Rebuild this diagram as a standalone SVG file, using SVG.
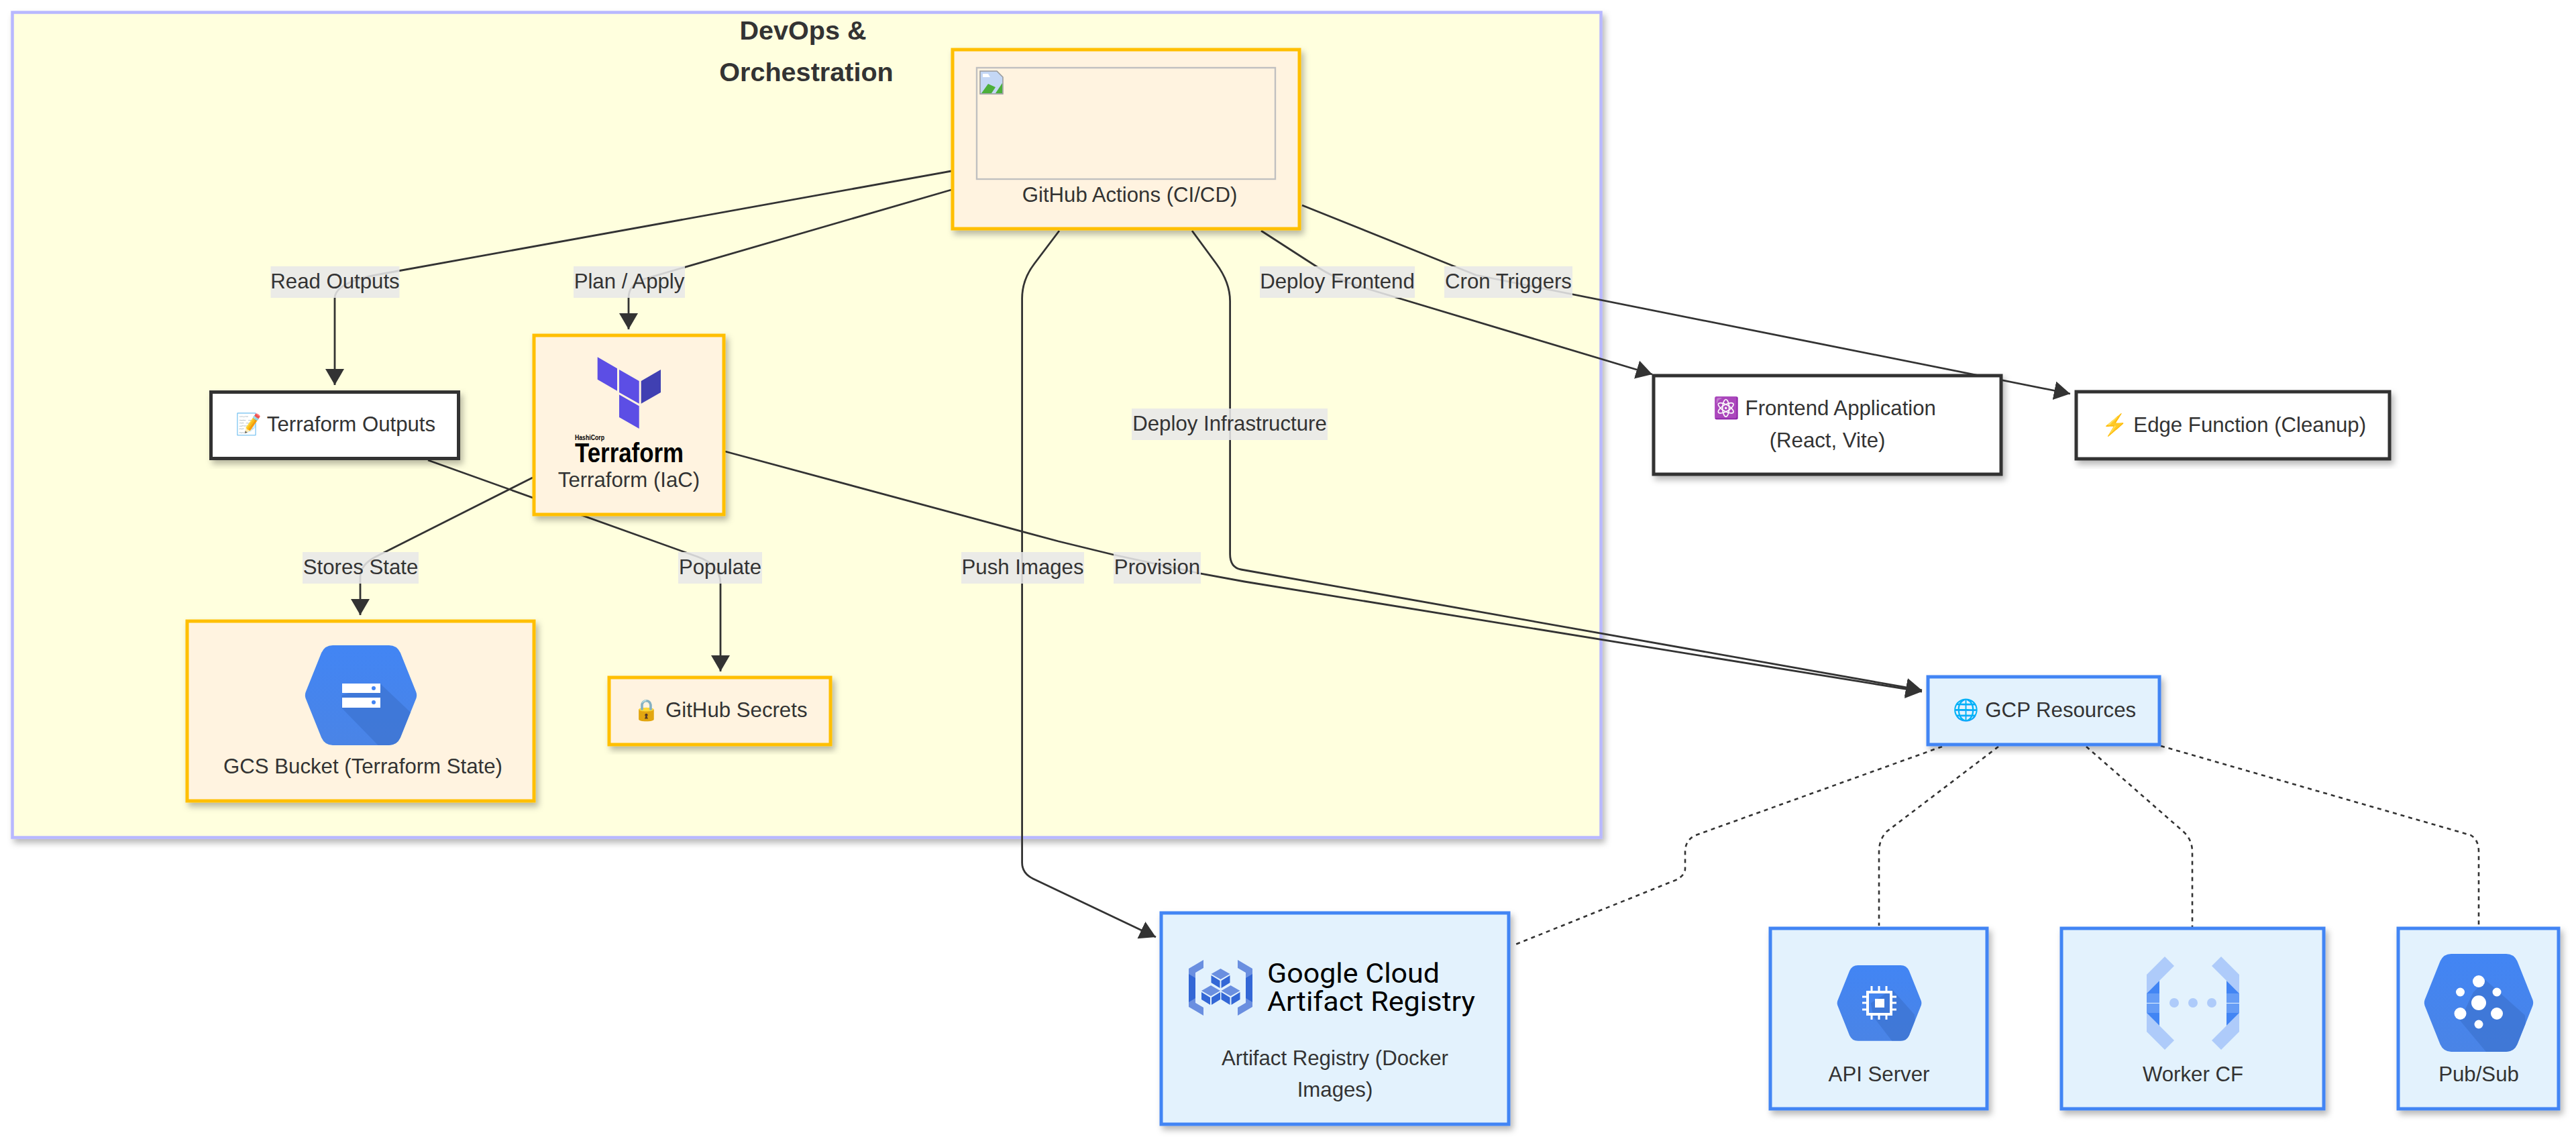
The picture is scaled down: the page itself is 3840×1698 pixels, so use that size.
<svg xmlns="http://www.w3.org/2000/svg" width="3840" height="1698" viewBox="0 0 3840 1698">
<style>
text{font-family:"Liberation Sans",Arial,"Noto Color Emoji",sans-serif;fill:#333;font-size:31.2px;text-anchor:middle}
.title{font-weight:700;font-size:39.6px}
.edge{fill:none;stroke:#333;stroke-width:2.8}
.dot{fill:none;stroke:#333;stroke-width:2.6;stroke-dasharray:6 6}
.lbl{fill:#e8e8e8;fill-opacity:.87}
.o{fill:#fff3e0;stroke:#ffbf00;stroke-width:5;filter:url(#sh)}
.b{fill:#e3f2fd;stroke:#4285f4;stroke-width:5;filter:url(#sh)}
.k{fill:#fff;stroke:#333;stroke-width:5;filter:url(#sh)}
.hex{fill:url(#hg)}
.hs{fill:#3a6fcc;fill-opacity:.6}
</style>
<defs>
<linearGradient id="hg" x1="0" y1="0" x2="0" y2="1"><stop offset="0" stop-color="#4285f4"/><stop offset="1" stop-color="#4a84e6"/></linearGradient>
<filter id="sh" x="-10%" y="-10%" width="125%" height="125%"><feDropShadow dx="4" dy="6" stdDeviation="5" flood-color="#000" flood-opacity=".28"/></filter>
<marker id="ar" markerUnits="userSpaceOnUse" markerWidth="26" markerHeight="30" refX="24" refY="14" orient="auto"><path d="M0,0L24,14L0,28z" fill="#333"/></marker>
<path id="hx" d="M25,3 H75 Q82,3 85,10 L99,47 Q100,50 99,53 L85,90 Q82,97 75,97 H25 Q18,97 15,90 L1,53 Q0,50 1,47 L15,10 Q18,3 25,3z"/>
<clipPath id="hc"><use href="#hx"/></clipPath>
<g id="cube"><path d="M14,0L28,8L14,16L0,8z" fill="#6a8fe0"/><path d="M0,10L13,18V29L0,21z" fill="#3367d6"/><path d="M28,10L15,18V29L28,21z" fill="#3367d6"/></g>
<g id="wb"><path d="M3227,1426L3241,1440L3219,1462L3200,1481V1453z" fill="#aecbfa"/><path d="M3219,1462V1481H3200z" fill="#4285f4"/><rect x="3200" y="1481" width="19" height="14" fill="#669df6"/></g>
</defs>
<rect width="3840" height="1698" fill="#fff"/>
<rect id="cluster" x="18.5" y="18.5" width="2368" height="1230" fill="#ffffde" stroke="#b8b8ff" stroke-width="4.5" filter="url(#sh)"/>
<g id="connectors">
<path class="edge" d="M1418,255L560,410Q499,422 499,445V574" marker-end="url(#ar)"/>
<path class="edge" d="M1418,283L960,416Q937,424 937,444V491" marker-end="url(#ar)"/>
<path class="edge" d="M794,712L560,830Q537,842 537,860V917" marker-end="url(#ar)"/>
<path class="edge" d="M638,686L1040,830Q1074,842 1074,870V1001" marker-end="url(#ar)"/>
<path class="edge" d="M1081,673L1578,807L1660,827Q1721,840 1789,855L1855,867L2865,1031" marker-end="url(#ar)"/>
<path class="edge" d="M1777,344L1813,393Q1833.6,421 1833.6,449V826Q1833.6,846 1850,849L2865,1029" marker-end="url(#ar)"/>
<path class="edge" d="M1579,344L1542,393Q1523.6,417 1523.6,445V1286Q1523.6,1302 1540,1310L1723,1397" marker-end="url(#ar)"/>
<path class="edge" d="M1880,344L1962,397Q1990,415 2020,425L2463,558" marker-end="url(#ar)"/>
<path class="edge" d="M1941,306L2200,410L3086,587" marker-end="url(#ar)"/>
<path class="dot" d="M2895,1113L2528,1245Q2512,1252 2512,1270V1295Q2512,1305 2498,1312L2259,1408"/>
<path class="dot" d="M2979,1113L2812,1240Q2801,1252 2801,1270V1380"/>
<path class="dot" d="M3110,1113L3255,1240Q3268,1252 3268,1270V1382"/>
<path class="dot" d="M3221,1112L3683,1245Q3695,1252 3695,1270V1380"/>
</g>
<g id="github"><rect class="o" x="1420" y="74" width="517" height="267"/><rect x="1456" y="101" width="445" height="166" fill="none" stroke="#c0c0c0" stroke-width="2.4"/><path d="M1461,106H1486L1495,115V140H1461z" fill="#c4d7f5" stroke="#999" stroke-width="1.5"/><path d="M1465,110h8l3,5h-11z" fill="#fff"/><path d="M1463,139L1473,125L1484,130L1478,139z" fill="#4caf3a"/><path d="M1484,139L1494,124V139z" fill="#4caf3a"/><text x="1684" y="301">GitHub Actions (CI/CD)</text></g>
<g id="terraform"><rect class="o" x="796" y="500" width="283" height="267"/>
<path d="M890.7,532.3L920,549.3V582.7L890.7,565.7zM923,551L952.7,568V601.7L923,585zM923,588.3L952.7,605.3V639L923,622z" fill="#5c4ee5"/><path d="M955.7,568L985,551V585L955.7,601.7z" fill="#4040b2"/>
<text x="857" y="656" style="font-size:11px;font-weight:700;text-anchor:start;fill:#000" textLength="44" lengthAdjust="spacingAndGlyphs">HashiCorp</text>
<text x="857" y="689" style="font-size:40px;font-weight:700;text-anchor:start;fill:#000" textLength="162" lengthAdjust="spacingAndGlyphs">Terraform</text>
<text x="937.5" y="726">Terraform (IaC)</text></g>
<g id="outputs"><rect class="k" x="314.5" y="584.5" width="369" height="99"/><text x="500" y="643">📝 Terraform Outputs</text></g>
<g id="gcs"><rect class="o" x="279" y="926" width="517" height="268"/>
<g transform="translate(454,957.2) scale(1.68,1.585)"><use href="#hx" class="hex"/><path clip-path="url(#hc)" class="hs" d="M67,39L95,67V100H68L33,62V50z"/></g>
<rect x="510" y="1019" width="57" height="14" fill="#fff"/><rect x="510" y="1040" width="57" height="15" fill="#fff"/><ellipse cx="557" cy="1026" rx="3" ry="3" fill="#4285f4"/><ellipse cx="557" cy="1047" rx="3" ry="3" fill="#4285f4"/>
<text x="541" y="1153">GCS Bucket (Terraform State)</text></g>
<g id="secrets"><rect class="o" x="908" y="1010" width="330" height="100"/><text x="1074" y="1069">🔒 GitHub Secrets</text></g>
<g id="frontend"><rect class="k" x="2465" y="560" width="518" height="147"/><text x="2720" y="619">⚛️ Frontend Application</text><text x="2724" y="667">(React, Vite)</text></g>
<g id="edgefn"><rect class="k" x="3095" y="584" width="467" height="100"/><text x="3330" y="644">⚡ Edge Function (Cleanup)</text></g>
<g id="gcp"><rect class="b" x="2874" y="1009" width="345" height="101"/><text x="3048" y="1069">🌐 GCP Resources</text></g>
<g id="registry"><rect class="b" x="1731" y="1361" width="518" height="315"/>
<path d="M1794,1431L1772,1444V1501L1794,1514V1502L1782,1495V1450L1794,1443z" fill="#6a8fe0"/><path d="M1845,1431L1867,1444V1501L1845,1514V1502L1857,1495V1450L1845,1443z" fill="#6a8fe0"/><path d="M1772,1452L1782,1458V1488L1772,1494z" fill="#3367d6"/><path d="M1867,1452L1857,1458V1488L1867,1494z" fill="#3367d6"/>
<use href="#cube" x="1805.5" y="1444"/><use href="#cube" x="1791" y="1469"/><use href="#cube" x="1820.5" y="1469"/>
<text x="1889" y="1465" style="font-family:Roboto,sans-serif;font-size:40px;font-weight:400;text-anchor:start;fill:#000" textLength="257" lengthAdjust="spacingAndGlyphs">Google Cloud</text>
<text x="1889" y="1507" style="font-family:Roboto,sans-serif;font-size:40px;font-weight:400;text-anchor:start;fill:#000" textLength="310" lengthAdjust="spacingAndGlyphs">Artifact Registry</text>
<text x="1990" y="1588">Artifact Registry (Docker</text><text x="1990" y="1635">Images)</text></g>
<g id="api"><rect class="b" x="2639" y="1384" width="323" height="269"/>
<g transform="translate(2738,1435.4) scale(1.27,1.2)"><use href="#hx" class="hex"/><path clip-path="url(#hc)" class="hs" d="M65,33L91,64L95,100H67L43,67L40,50z"/></g>
<path d="M2784,1479H2819V1512H2784z" fill="none" stroke="#fff" stroke-width="4"/><rect x="2795" y="1489" width="14" height="13" fill="#fff"/>
<path d="M2790,1470V1477M2801,1470V1477M2812,1470V1477M2790,1514V1520M2801,1514V1520M2812,1514V1520M2776,1486H2782M2776,1495H2782M2776,1505H2782M2821,1486H2827M2821,1495H2827M2821,1505H2827" stroke="#fff" stroke-width="3" fill="none"/>
<text x="2801" y="1612">API Server</text></g>
<g id="worker"><rect class="b" x="3073" y="1384" width="391" height="269"/>
<use href="#wb"/><use href="#wb" transform="translate(6538,0) scale(-1,1)"/><use href="#wb" transform="translate(0,2991) scale(1,-1)"/><use href="#wb" transform="translate(6538,2991) scale(-1,-1)"/>
<circle cx="3241" cy="1495" r="7" fill="#aecbfa"/><circle cx="3269" cy="1495" r="7" fill="#aecbfa"/><circle cx="3297" cy="1495" r="7" fill="#aecbfa"/>
<text x="3269" y="1612">Worker CF</text></g>
<g id="pubsub"><rect class="b" x="3575" y="1384" width="239" height="269"/>
<g transform="translate(3613,1417.3) scale(1.64,1.553)"><use href="#hx" class="hex"/><path clip-path="url(#hc)" class="hs" d="M56,28L92,62L95,100H59L33,67L45,40z"/></g>
<g fill="#fff"><circle cx="3695" cy="1495" r="11"/><circle cx="3695" cy="1463" r="9"/><circle cx="3667.5" cy="1479" r="6.5"/><circle cx="3722" cy="1479" r="6.5"/><circle cx="3667.5" cy="1511" r="9"/><circle cx="3722" cy="1511" r="9"/><circle cx="3695" cy="1527" r="6.5"/></g>
<text x="3695" y="1612">Pub/Sub</text></g>
<g id="title"><text class="title" x="1197" y="59">DevOps &amp;</text><text class="title" x="1202" y="121">Orchestration</text></g>
<g id="edge-labels">
<rect class="lbl" x="403.5" y="397" width="192" height="47"/><text x="499.5" y="430">Read Outputs</text>
<rect class="lbl" x="855" y="397" width="166" height="47"/><text x="938" y="430">Plan / Apply</text>
<rect class="lbl" x="1878" y="397" width="231" height="47"/><text x="1993.5" y="430">Deploy Frontend</text>
<rect class="lbl" x="2153" y="397" width="191" height="47"/><text x="2248.5" y="430">Cron Triggers</text>
<rect class="lbl" x="1687" y="609" width="292" height="47"/><text x="1833" y="642">Deploy Infrastructure</text>
<rect class="lbl" x="451" y="823" width="173" height="47"/><text x="537.5" y="856">Stores State</text>
<rect class="lbl" x="1011" y="823" width="125" height="47"/><text x="1073.5" y="856">Populate</text>
<rect class="lbl" x="1433" y="823" width="183" height="47"/><text x="1524.5" y="856">Push Images</text>
<rect class="lbl" x="1660" y="823" width="130" height="47"/><text x="1725" y="856">Provision</text>
</g>
</svg>
